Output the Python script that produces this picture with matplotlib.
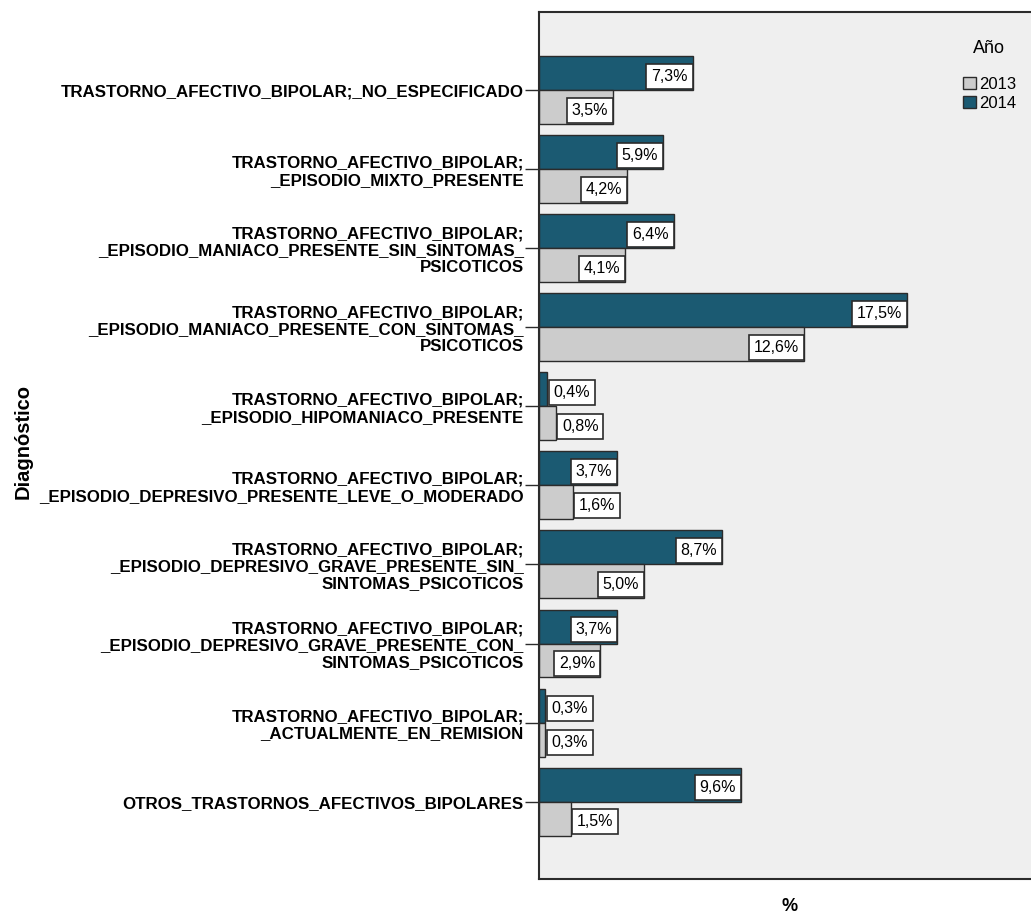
import matplotlib
matplotlib.use("Agg")
import matplotlib.pyplot as plt
from matplotlib.patches import Patch
import numpy as np

# Diagnósticos (una etiqueta por grupo, con saltos de línea tal como se rotulan)
diagnosticos = [
    "TRASTORNO_AFECTIVO_BIPOLAR;_NO_ESPECIFICADO",
    "TRASTORNO_AFECTIVO_BIPOLAR;\n_EPISODIO_MIXTO_PRESENTE",
    "TRASTORNO_AFECTIVO_BIPOLAR;\n_EPISODIO_MANIACO_PRESENTE_SIN_SINTOMAS_\nPSICOTICOS",
    "TRASTORNO_AFECTIVO_BIPOLAR;\n_EPISODIO_MANIACO_PRESENTE_CON_SINTOMAS_\nPSICOTICOS",
    "TRASTORNO_AFECTIVO_BIPOLAR;\n_EPISODIO_HIPOMANIACO_PRESENTE",
    "TRASTORNO_AFECTIVO_BIPOLAR;\n_EPISODIO_DEPRESIVO_PRESENTE_LEVE_O_MODERADO",
    "TRASTORNO_AFECTIVO_BIPOLAR;\n_EPISODIO_DEPRESIVO_GRAVE_PRESENTE_SIN_\nSINTOMAS_PSICOTICOS",
    "TRASTORNO_AFECTIVO_BIPOLAR;\n_EPISODIO_DEPRESIVO_GRAVE_PRESENTE_CON_\nSINTOMAS_PSICOTICOS",
    "TRASTORNO_AFECTIVO_BIPOLAR;\n_ACTUALMENTE_EN_REMISION",
    "OTROS_TRASTORNOS_AFECTIVOS_BIPOLARES",
]
pct_2013 = [3.5, 4.2, 4.1, 12.6, 0.8, 1.6, 5.0, 2.9, 0.3, 1.5]
pct_2014 = [7.3, 5.9, 6.4, 17.5, 0.4, 3.7, 8.7, 3.7, 0.3, 9.6]
anios = ["2013", "2014"]

COLOR_2013 = "#cccccc"
COLOR_2014 = "#1b5a72"
FONDO = "#efefef"
BORDE = "#2b2b2b"

plt.rcParams["font.family"] = ["Liberation Sans", "DejaVu Sans"]

fig = plt.figure(figsize=(10.31, 9.15), dpi=100)
ax = fig.add_axes([0.5228, 0.0393, 0.4869, 0.9476])
ax.set_facecolor(FONDO)

y = np.arange(len(diagnosticos))
h = 0.43
ax.barh(y - h / 2, pct_2014, height=h, color=COLOR_2014, edgecolor=BORDE, linewidth=1)
ax.barh(y + h / 2, pct_2013, height=h, color=COLOR_2013, edgecolor=BORDE, linewidth=1)

ax.set_xlim(0, 23.87)
ax.set_ylim(9.98, -0.99)

# etiquetas de valor en recuadro blanco: dentro del extremo si cabe, fuera si no
fs_val = 11.5
pad = 0.3
off = pad * fs_val
for serie, desplaz in ((pct_2014, -h / 2), (pct_2013, h / 2)):
    for i, v in enumerate(serie):
        texto = f"{v:.1f}%".replace(".", ",")
        dentro = v > 2.2
        ax.annotate(texto, xy=(v, i + desplaz + 0.04),
                    xytext=(-off if dentro else off + 1, 0), textcoords="offset points",
                    ha="right" if dentro else "left", va="center", fontsize=fs_val,
                    bbox=dict(boxstyle=f"square,pad={pad}", facecolor="white",
                              edgecolor=BORDE, linewidth=1.2))

ax.set_yticks(y)
ax.set_yticklabels(diagnosticos, fontweight="bold", fontsize=12.2, linespacing=1.15)
ax.tick_params(axis="y", length=10, width=1, color=BORDE, pad=1)
ax.set_xticks([])

for lado in ("left", "top", "bottom"):
    ax.spines[lado].set_color(BORDE)
    ax.spines[lado].set_linewidth(1.5)
ax.spines["right"].set_visible(False)

ax.set_xlabel("%", fontweight="bold", fontsize=13, labelpad=14)
fig.text(0.022, 0.517, "Diagnóstico", rotation=90, ha="center", va="center",
         fontweight="bold", fontsize=14.5)

handles = [Patch(facecolor=COLOR_2013, edgecolor=BORDE), Patch(facecolor=COLOR_2014, edgecolor=BORDE)]
leg = fig.legend(handles, anios, title="Año", loc="upper left", bbox_to_anchor=(0.934, 0.956),
                 frameon=False, fontsize=12, title_fontsize=13, handlelength=0.8,
                 handleheight=0.8, handletextpad=0.15, labelspacing=0.22, borderaxespad=0,
                 borderpad=0)
leg._legend_box.sep = 14

fig.savefig("out.png", dpi=100)
